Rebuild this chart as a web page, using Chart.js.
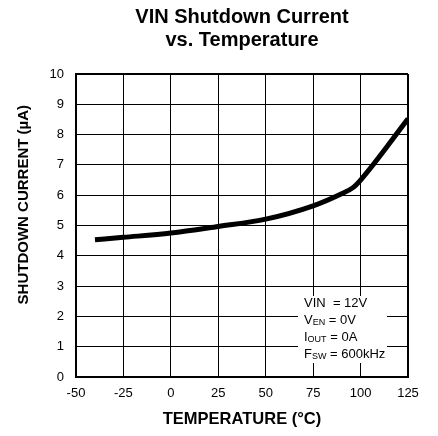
<!DOCTYPE html>
<html>
<head>
<meta charset="utf-8">
<script src="https://cdn.jsdelivr.net/npm/chart.js@4/dist/chart.umd.min.js"></script>
<style>
  body { margin: 0; background: #fff; }
</style>
</head>
<body>
<canvas id="chart" width="438" height="436"></canvas>
<script>
// temperature (°C) and shutdown current (µA)
const temps = [-40, -25, 0, 25, 50, 75, 90, 96, 100, 125];
const current = [4.53, 4.61, 4.75, 4.97, 5.21, 5.65, 6.05, 6.25, 6.5, 8.52];

const titleLines = ['VIN Shutdown Current', 'vs. Temperature'];
const xTitle = 'TEMPERATURE (°C)';
const yTitle = 'SHUTDOWN CURRENT (µA)';

// conditions box, each line split into normal / subscript parts
const conditions = [
    [['VIN  = 12V', false]],
    [['V', false], ['EN', true], [' = 0V', false]],
    [['I', false], ['OUT', true], [' = 0A', false]],
    [['F', false], ['SW', true], [' = 600kHz', false]]
];

const points = temps.map((t, i) => ({ x: t, y: current[i] }));

// centre the main title over the plot instead of the whole canvas
const titleShift = {
    id: 'titleShift',
    afterLayout(chart) {
        const t = chart.titleBlock;
        if (t) {
            t.left = chart.chartArea.left;
            t.right = chart.chartArea.right;
        }
    }
};

const conditionsBox = {
    id: 'conditionsBox',
    afterDraw(chart) {
        const ctx = chart.ctx;
        ctx.save();
        ctx.fillStyle = '#fff';
        ctx.fillRect(298, 296, 89, 67);
        ctx.fillStyle = '#000';
        ctx.textBaseline = 'middle';
        conditions.forEach((line, i) => {
            let x = 304;
            const y = 303 + i * 17;
            line.forEach(([txt, sub]) => {
                ctx.font = sub ? '9px Arial, "Liberation Sans"' : '13px Arial, "Liberation Sans"';
                ctx.fillText(txt, x, sub ? y + 3 : y);
                x += ctx.measureText(txt).width;
            });
        });
        ctx.restore();
    }
};

new Chart(document.getElementById('chart'), {
    type: 'line',
    data: {
        datasets: [{
            data: points,
            borderColor: '#000',
            borderWidth: 5,
            pointRadius: 0,
            cubicInterpolationMode: 'monotone',
            fill: false
        }]
    },
    options: {
        responsive: false,
        animation: false,
        layout: { padding: { right: 30 } },
        plugins: {
            legend: { display: false },
            tooltip: { enabled: false },
            title: {
                display: true,
                text: titleLines,
                color: '#000',
                font: { family: 'Arial, "Liberation Sans"', size: 20, weight: 'bold', lineHeight: 1.15 },
                padding: { top: 6, bottom: 22 }
            }
        },
        scales: {
            x: {
                type: 'linear',
                min: -50,
                max: 125,
                afterFit: scale => { scale.height = 59; },
                ticks: {
                    stepSize: 25,
                    color: '#000',
                    padding: 9,
                    maxRotation: 0,
                    font: { family: 'Arial, "Liberation Sans"', size: 13 }
                },
                grid: {
                    color: '#000',
                    lineWidth: c => (c.tick && c.tick.value === 125 ? 2 : 1),
                    drawTicks: false
                },
                border: { color: '#000', width: 2 },
                title: {
                    display: true,
                    text: xTitle,
                    color: '#000',
                    font: { family: 'Arial, "Liberation Sans"', size: 16.5, weight: 'bold' },
                    padding: { top: 0, bottom: 7 }
                }
            },
            y: {
                type: 'linear',
                min: 0,
                max: 10,
                afterFit: scale => { scale.width = 76; },
                ticks: {
                    stepSize: 1,
                    color: '#000',
                    padding: 12,
                    font: { family: 'Arial, "Liberation Sans"', size: 13 }
                },
                grid: {
                    color: '#000',
                    lineWidth: c => (c.tick && c.tick.value === 10 ? 2 : 1),
                    drawTicks: false
                },
                border: { color: '#000', width: 2 },
                title: {
                    display: true,
                    // leading spaces lift the label above the plot's middle, as in the original
                    text: '          ' + yTitle,
                    color: '#000',
                    font: { family: 'Arial, "Liberation Sans"', size: 15, weight: 'bold' },
                    padding: { top: 15, bottom: 0 }
                }
            }
        }
    },
    plugins: [titleShift, conditionsBox]
});
</script>
</body>
</html>
